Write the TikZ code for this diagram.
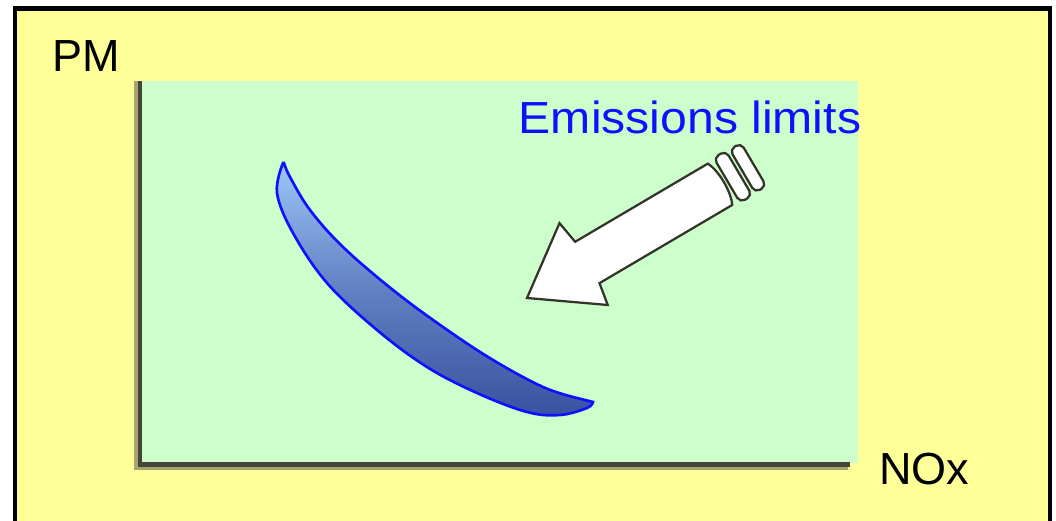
\documentclass[tikz,border=0pt]{standalone}
\usepackage{fontspec}
\setmainfont{Liberation Sans}
\definecolor{paleyellow}{HTML}{FFFF99}
\definecolor{palegreen}{HTML}{CCFFCC}
\definecolor{axisdark}{HTML}{45453A}
\definecolor{axisshade}{HTML}{A8A470}
\definecolor{limitblue}{HTML}{1010FF}
\definecolor{bandlight}{HTML}{9CC6F7}
\definecolor{banddark}{HTML}{3A52A0}
\definecolor{arrowline}{HTML}{33332A}
\begin{document}
\begin{tikzpicture}[x=0.025cm, y=0.025cm,
  label/.style={font=\fontsize{32}{38}\selectfont, inner sep=0pt},
  axisline/.style={line width=3.5pt, color=axisdark},
  axisshadow/.style={line width=3pt, color=axisshade},
  bigarrow/.style={draw=arrowline, line width=1.6pt, fill=white, line join=miter}]
  \useasboundingbox (0,0) rectangle (1056,520);
  \clip (0,0) rectangle (1056,520);
  \fill[white] (0,0) rectangle (1056,520);
  \draw[line width=2.9pt, fill=paleyellow] (15,-20) -- (15,511.5) -- (1050,511.5) -- (1050,-20);
  \fill[palegreen] (142,57) rectangle (858,439);
  \draw[axisshadow] (136.5,439) -- (136.5,52) -- (848,52);
  \draw[axisline] (140,439) -- (140,55.5) -- (850,55.5);
  \node[label] (pm) at (86,464) {PM};
  \node[label] (nox) at (924,51) {NOx};
  \node[label, text=limitblue, xscale=1.07, transform shape] (limits) at (690,403) {Emissions limits};
  \draw[draw=limitblue, line width=1.9pt, top color=bandlight, bottom color=banddark, middle color=bandlight!40!banddark]
    plot[smooth, tension=0.6] coordinates {(283,357) (277,327) (293,287) (327,237) (377,190) (427,153) (477,127) (527,108) (560,105) (587,112) (593,118)}
    -- plot[smooth, tension=0.6] coordinates {(577,122) (543,133) (493,160) (443,193) (393,230) (343,273) (310,310) (290,343) (284,357)}
    -- cycle;
  \begin{scope}[shift={(527,222)}, rotate=30.5]
    \draw[bigarrow] (0,0) -- (66,48) -- (70,24) -- (224,24)
      .. controls (230,12) and (230,-12) .. (224,-24) -- (70,-24) -- (66,-47) -- cycle;
    \draw[bigarrow, rounded corners=4] (232,-26) rectangle (246,26);
    \draw[bigarrow, rounded corners=4] (250,-25) rectangle (263,25);
  \end{scope}
\end{tikzpicture}
\end{document}
